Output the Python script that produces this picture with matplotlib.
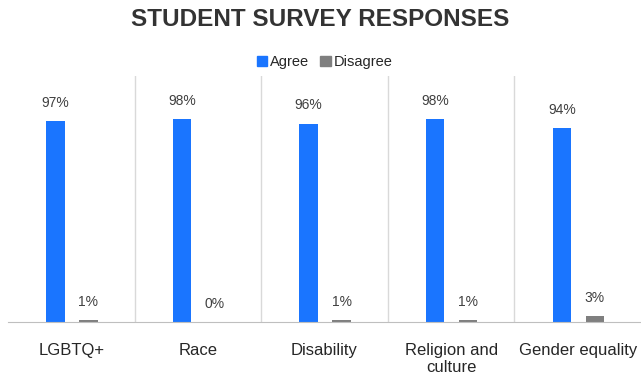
import numpy as np
import matplotlib.pyplot as plt
from matplotlib.patches import Patch

categories = ["LGBTQ+", "Race", "Disability", "Religion and\nculture", "Gender equality"]
agree = [97, 98, 96, 98, 94]
disagree = [1, 0, 1, 1, 3]

plt.rcParams["font.family"] = ["Liberation Sans", "DejaVu Sans"]

fig = plt.figure(figsize=(6.41, 3.74), dpi=100)
ax = fig.add_axes([8 / 641, 1 - 322 / 374, 633 / 641, 246 / 374])

x = np.arange(len(categories))
w = 0.145
ax.bar(x - 0.125, agree, w, color="#1a75ff")
ax.bar(x + 0.135, disagree, w, color="#7f7f7f")

for xi, v in zip(x, agree):
    ax.annotate(f"{v}%", (xi - 0.125, v), xytext=(0, 13), textcoords="offset points",
                ha="center", va="center", fontsize=10, color="#404040")
for xi, v in zip(x, disagree):
    ax.annotate(f"{v}%", (xi + 0.135, v), xytext=(0, 13), textcoords="offset points",
                ha="center", va="center", fontsize=10, color="#404040")

ax.set_xlim(-0.5, len(categories) - 0.5)
ax.set_ylim(0, 119)
for xi in x[:-1]:
    ax.axvline(xi + 0.5, color="#d9d9d9", lw=1)
for s in ["top", "right", "left"]:
    ax.spines[s].set_visible(False)
ax.spines["bottom"].set_color("#bfbfbf")
ax.set_yticks([])
ax.set_xticks(x)
ax.set_xticklabels(categories, fontsize=12, color="#262626", linespacing=1.15)
ax.tick_params(axis="x", length=0, pad=15)

fig.text(0.5, 1 - 20 / 374, "STUDENT SURVEY RESPONSES", ha="center", va="center",
         fontsize=17.5, fontweight="bold", color="#333333")
handles = [Patch(color="#1a75ff", label="Agree"), Patch(color="#7f7f7f", label="Disagree")]
ax.legend(handles=handles, loc="center", bbox_to_anchor=(0.5, 1 + 14 / 246),
          ncol=2, frameon=False, fontsize=10.5, handlelength=0.7, handleheight=0.7,
          handletextpad=0.2, columnspacing=0.8, labelcolor="#262626")

fig.savefig("out.png", dpi=100)
